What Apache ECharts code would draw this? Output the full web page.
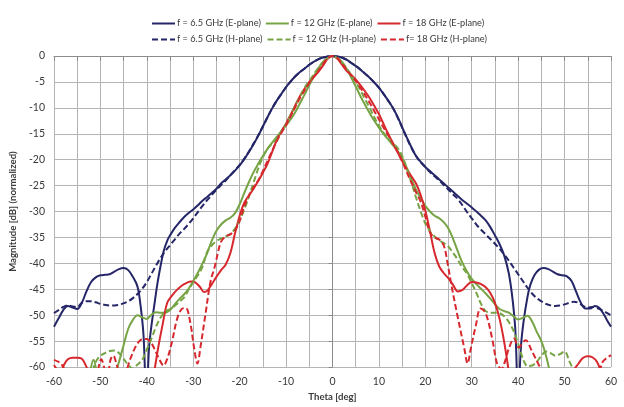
<!DOCTYPE html>
<html>
<head>
<meta charset="utf-8">
<script src="https://cdn.jsdelivr.net/npm/echarts@6/dist/echarts.min.js"></script>
<style>
  html, body { margin: 0; padding: 0; background: #ffffff; }
  #chart { width: 624px; height: 407px; }
</style>
</head>
<body>
<div id="chart"></div>
<script>
// Normalized radiation patterns: [theta (deg), magnitude (dB)]
// Values below -60 dB fall outside the plotted range and are clipped.
const seriesNames = [
  'f = 6.5 GHz (E-plane)', 'f = 12 GHz (E-plane)', 'f = 18 GHz (E-plane)',
  'f = 6.5 GHz (H-plane)', 'f = 12 GHz (H-plane)', 'f= 18 GHz (H-plane)'
];

const e65 = [[-60,-52.2],[-59,-50.6],[-58,-49.0],[-57,-48.2],[-56,-48.5],[-55,-48.8],[-54,-47.6],[-53,-45.4],[-52,-43.6],[-51,-42.7],[-50,-42.3],[-49,-42.2],[-48,-42.1],[-47,-41.6],[-46,-41.1],[-45,-40.9],[-44,-41.3],[-43,-42.6],[-42,-44.5],[-41.3,-48.5],[-40.7,-54],[-40.1,-66],[-39.5,-56],[-39,-52],[-38.3,-47.5],[-37.7,-43.8],[-37,-40.3],[-36.3,-37.4],[-35.5,-35.4],[-35,-34.6],[-34,-33.2],[-33,-32.1],[-32,-31.1],[-31,-30.3],[-30,-29.6],[-29,-28.8],[-28,-27.9],[-27,-27.2],[-26,-26.4],[-25,-25.6],[-24,-24.6],[-23,-23.8],[-22,-23.0],[-21,-22.1],[-20,-21.1],[-19,-19.9],[-18,-18.5],[-17,-17.0],[-16,-15.4],[-15,-13.6],[-14,-11.8],[-13,-10.1],[-12,-8.6],[-11,-7.3],[-10,-6.0],[-9,-4.9],[-8,-3.9],[-7,-3.1],[-6,-2.4],[-5,-1.7],[-4,-1.1],[-3,-0.6],[-2,-0.3],[-1,-0.1],[0,0],[1,-0.1],[2,-0.3],[3,-0.7],[4,-1.3],[5,-1.9],[6,-2.6],[7,-3.4],[8,-4.2],[9,-5.1],[10,-6.1],[11,-7.3],[12,-8.6],[13,-10.0],[14,-11.7],[15,-13.7],[16,-15.7],[17,-17.6],[18,-19.3],[19,-20.4],[20,-21.4],[21,-22.2],[22,-23.0],[23,-23.8],[24,-24.6],[25,-25.4],[26,-26.2],[27,-27.0],[28,-27.8],[29,-28.5],[30,-29.2],[31,-30.0],[32,-30.8],[33,-31.7],[34,-33.0],[35,-34.6],[36,-36.3],[37,-38.5],[38,-42.0],[38.8,-47],[39.4,-53],[40,-66],[40.6,-56],[41.2,-51],[42,-46.5],[42.6,-44.2],[43.5,-42.3],[44.5,-41.2],[45.5,-40.9],[46.5,-41.1],[47.5,-41.6],[48.5,-42.1],[49.5,-42.3],[50.5,-42.5],[51.5,-43.4],[52.5,-45.5],[53.5,-47.6],[54.5,-48.7],[55.5,-48.7],[56.5,-48.2],[57.5,-48.6],[58.5,-49.9],[59.3,-51.2],[60,-52.2]];

const e12 = [[-60,-66],[-53,-66],[-52.2,-61],[-51.5,-58.6],[-50.8,-61],[-50,-66],[-47.5,-66],[-46.6,-61],[-46,-59],[-45,-55.8],[-44,-52.6],[-43,-50.9],[-42,-50.0],[-41,-50.4],[-40,-50.7],[-39,-49.9],[-38,-49.4],[-37,-49.5],[-36,-49.5],[-35,-49.0],[-34,-47.9],[-33,-46.9],[-32,-46.0],[-31,-44.9],[-30,-43.4],[-29,-41.8],[-28,-40.0],[-27,-38.0],[-26,-35.6],[-25,-33.7],[-24,-32.5],[-23,-31.7],[-22,-31.2],[-21,-30.3],[-20,-28.6],[-19,-26.4],[-18,-24.3],[-17,-22.4],[-16,-20.8],[-15,-19.3],[-14,-17.9],[-13,-16.7],[-12,-15.6],[-11,-14.5],[-10,-13.4],[-9,-12.2],[-8,-10.8],[-7,-9.1],[-6,-7.4],[-5,-5.6],[-4,-3.9],[-3,-2.3],[-2,-1.1],[-1,-0.3],[0,0],[1,-0.3],[2,-1.1],[3,-2.4],[4,-4.1],[5,-5.9],[6,-7.7],[7,-9.4],[8,-11.0],[9,-12.5],[10,-13.8],[11,-15.0],[12,-16.1],[13,-17.2],[14,-18.3],[15,-19.6],[16,-21.6],[17,-23.7],[18,-25.8],[19,-27.4],[20,-28.9],[21,-30.0],[22,-30.8],[23,-31.3],[24,-32.1],[25,-33.3],[26,-35.3],[27,-37.7],[28,-39.9],[29,-41.6],[30,-43.0],[31,-44.0],[32,-44.9],[33,-45.8],[34,-46.8],[35,-47.9],[36,-48.8],[37,-49.2],[38,-49.5],[39,-50.2],[40,-50.8],[41,-50.5],[42,-50.1],[43,-51.2],[44,-53.2],[45,-55.0],[46,-57.8],[46.8,-61],[47.5,-66],[60,-66]];

const e18 = [[-60,-59.6],[-59.3,-60.5],[-58.6,-61],[-57.8,-59.5],[-57,-58.5],[-56,-58.2],[-55,-58.2],[-54,-58.4],[-53.3,-59.4],[-52.6,-61],[-52,-66],[-39.2,-66],[-38.4,-61],[-37.6,-56.5],[-36.6,-51.8],[-35.6,-47.6],[-34.5,-46.1],[-33.5,-45.1],[-32.5,-44.3],[-31.5,-43.8],[-30.5,-43.5],[-29.5,-43.7],[-28.5,-44.6],[-27.7,-45.5],[-27,-45.3],[-26,-44.0],[-25,-42.6],[-24,-41.3],[-23,-40.2],[-22,-38.0],[-21,-34.2],[-20,-30.8],[-19,-28.3],[-18,-26.9],[-17,-25.6],[-16,-24.1],[-15,-22.5],[-14,-20.8],[-13,-18.5],[-12,-16.2],[-11,-14.5],[-10,-13.0],[-9,-11.3],[-8,-9.5],[-7,-7.7],[-6,-6.3],[-5,-5.0],[-4,-4.0],[-3,-3.0],[-2,-1.8],[-1,-0.5],[0,0],[1,-0.5],[2,-1.6],[3,-2.8],[4,-3.6],[5,-4.5],[6,-5.6],[7,-6.8],[8,-8.1],[9,-9.6],[10,-11.2],[11,-13.1],[12,-15.0],[13,-16.8],[14,-18.5],[15,-20.2],[16,-21.8],[17,-23.2],[18,-24.6],[19,-26.8],[20,-29.8],[21,-33.8],[22,-38.0],[23,-40.6],[24,-41.9],[25,-42.9],[26,-44.2],[27,-45.4],[28,-45.1],[29,-44.2],[30,-43.6],[31,-43.7],[32,-44.0],[33,-44.6],[34,-45.7],[35,-47.6],[36,-50.7],[37,-55.2],[38,-61],[38.8,-66],[51,-66],[51.8,-61],[53,-59.3],[54,-58.2],[55,-57.9],[56,-58.1],[57,-59.0],[57.8,-61],[58.5,-66],[60,-66]];

const h65 = [[-60,-49.6],[-59,-49.0],[-58,-48.4],[-57,-48.1],[-56,-48.3],[-55,-48.4],[-54,-47.6],[-53,-47.3],[-52,-47.3],[-51,-47.5],[-50,-47.8],[-49,-48.0],[-48,-48.1],[-47,-48.1],[-46,-48.0],[-45,-47.7],[-44,-47.3],[-43,-46.7],[-42,-45.9],[-41,-44.9],[-40,-43.6],[-39,-42.0],[-38,-40.4],[-37,-38.9],[-36,-37.6],[-35,-36.5],[-34,-35.4],[-33,-34.3],[-32,-33.4],[-31,-32.4],[-30,-31.3],[-29,-30.1],[-28,-28.9],[-27,-27.8],[-26,-26.8],[-25,-25.8],[-24,-24.9],[-23,-24.0],[-22,-23.0],[-21,-22.0],[-20,-21.0],[-19,-19.8],[-18,-18.4],[-17,-16.9],[-16,-15.3],[-15,-13.6],[-14,-11.8],[-13,-10.1],[-12,-8.6],[-11,-7.3],[-10,-6.0],[-9,-4.9],[-8,-3.9],[-7,-3.1],[-6,-2.4],[-5,-1.7],[-4,-1.1],[-3,-0.6],[-2,-0.3],[-1,-0.1],[0,0],[1,-0.1],[2,-0.3],[3,-0.7],[4,-1.3],[5,-1.9],[6,-2.6],[7,-3.4],[8,-4.2],[9,-5.1],[10,-6.1],[11,-7.3],[12,-8.6],[13,-10.0],[14,-11.8],[15,-13.8],[16,-15.8],[17,-17.7],[18,-19.3],[19,-20.5],[20,-21.4],[21,-22.4],[22,-23.2],[23,-24.0],[24,-24.9],[25,-25.8],[26,-26.7],[27,-27.6],[28,-28.8],[29,-30.1],[30,-31.3],[31,-32.5],[32,-33.5],[33,-34.4],[34,-35.3],[35,-36.2],[36,-37.2],[37,-38.3],[38,-39.5],[39,-40.8],[40,-42.1],[41,-43.4],[42,-44.7],[43,-45.8],[44,-46.7],[45,-47.3],[46,-47.8],[47,-48.1],[48,-48.2],[49,-48.1],[50,-47.9],[51,-47.6],[52,-47.4],[53,-47.6],[54,-48.2],[55,-48.5],[56,-48.4],[57,-48.6],[58,-49.0],[59,-49.5],[60,-50.0]];

const h12 = [[-60,-66],[-52.5,-66],[-51.5,-60.5],[-51,-59],[-50,-57.8],[-49,-57.3],[-48,-56.9],[-47,-56.8],[-46,-57.3],[-45,-58.4],[-44,-59.6],[-43,-60.3],[-42.2,-59.7],[-41,-58.6],[-40,-56.6],[-39,-54.5],[-38,-52.2],[-37,-50.4],[-36,-49.3],[-35,-48.8],[-34,-48.2],[-33,-47.4],[-32,-46.6],[-31,-45.1],[-30,-43.6],[-29,-42.3],[-28,-40.6],[-27,-37.8],[-26,-36.5],[-25,-35.7],[-24,-35.2],[-23,-34.8],[-22,-34.3],[-21,-33.3],[-20,-31.7],[-19,-29.6],[-18,-27.1],[-17,-24.4],[-16,-21.7],[-15,-19.5],[-14,-17.9],[-13,-16.9],[-12,-15.8],[-11,-14.5],[-10,-13.1],[-9,-11.3],[-8,-9.5],[-7,-7.8],[-6,-6.1],[-5,-4.8],[-4,-3.5],[-3,-2.2],[-2,-1.2],[-1,-0.4],[0,0],[1,-0.4],[2,-1.2],[3,-2.3],[4,-3.6],[5,-5.0],[6,-6.6],[7,-8.3],[8,-10.0],[9,-11.8],[10,-13.4],[11,-14.8],[12,-15.9],[13,-16.8],[14,-17.7],[15,-19.2],[16,-21.7],[17,-24.4],[18,-27.3],[19,-30.0],[20,-32.3],[21,-33.8],[22,-34.8],[23,-35.6],[24,-36.1],[25,-36.8],[26,-38.0],[27,-39.3],[28,-40.8],[29,-42.0],[30,-43.8],[31,-45.7],[32,-47.8],[33,-49.2],[34,-49.5],[35,-49.5],[36,-49.6],[37,-50.2],[38,-51.3],[39,-53.0],[40,-55.5],[41,-58.3],[42,-59.8],[43,-59.7],[44,-59.0],[45,-57.8],[46,-57.0],[47,-57.3],[48,-57.8],[49,-57.5],[50,-57.0],[51,-58.8],[52,-61],[53,-66],[60,-66]];

const h18 = [[-60,-58.6],[-59,-59.0],[-58.4,-59.4],[-57.6,-61],[-57,-66],[-51.5,-66],[-50.6,-61],[-49.8,-58.5],[-49,-60.5],[-48.4,-61],[-47.8,-58.5],[-47.2,-57.8],[-46.5,-59.5],[-45.8,-61],[-44.8,-61],[-43.6,-58.5],[-42.5,-56.2],[-41.5,-54.9],[-40.7,-54.6],[-40,-54.6],[-39,-55.4],[-38.2,-56.8],[-37.4,-58.3],[-36.4,-59.7],[-35.6,-58.4],[-34.6,-55.2],[-33.5,-50.8],[-32.5,-48.8],[-31.6,-48.6],[-30.6,-51.6],[-29.8,-56.4],[-29.1,-59.3],[-28.4,-55.9],[-27.4,-50.0],[-26.3,-43.6],[-25.3,-40.4],[-24.5,-37.2],[-24,-35.8],[-23,-34.8],[-22,-34.4],[-21,-33.6],[-20,-31.8],[-19,-29.0],[-18,-26.9],[-17,-25.3],[-16,-24.0],[-15,-22.2],[-14,-20.2],[-13,-18.3],[-12,-16.4],[-11,-14.8],[-10,-13.3],[-9,-11.6],[-8,-9.8],[-7,-8.1],[-6,-6.6],[-5,-5.2],[-4,-4.0],[-3,-2.8],[-2,-1.5],[-1,-0.4],[0,0],[1,-0.4],[2,-1.4],[3,-2.6],[4,-3.7],[5,-4.8],[6,-6.1],[7,-7.5],[8,-9.0],[9,-10.6],[10,-12.2],[11,-13.8],[12,-15.3],[13,-16.8],[14,-18.4],[15,-20.3],[16,-22.4],[17,-24.4],[18,-26.3],[19,-28.1],[20,-31.0],[21,-34.0],[22,-35.0],[23,-35.4],[24,-36.6],[24.8,-40.0],[25.5,-43.6],[26.9,-50.0],[28.4,-56.4],[29.1,-59.3],[29.8,-56.4],[30.9,-51.9],[31.9,-48.7],[33,-49.6],[34.4,-54.5],[35.5,-59.5],[36.4,-60.3],[37.3,-58.5],[38,-56.4],[39.1,-54.5],[40.1,-56.2],[41.6,-54.8],[43,-57.0],[44.4,-59.5],[45.3,-61],[46,-66],[56.8,-66],[57.6,-61],[58.2,-59],[59,-58.3],[60,-57.7]];

const xTicks = { min: -60, max: 60, step: 5, labelStep: 10 };
const yTicks = { min: -60, max: 0, step: 5 };

const NAVY = '#252668', GREEN = '#76a444', RED = '#d7282e';
const FONT = 'Lato, "Liberation Sans", sans-serif';
const TEXT = '#3a3a3a';
const GRID = '#b4b4b4';

function lineSeries(name, data, color, dashed) {
  return {
    name: name,
    type: 'line',
    data: data,
    symbol: 'none',
    smooth: 0.35,
    clip: true,
    lineStyle: { color: color, width: 2, type: dashed ? [6, 3] : 'solid' },
    itemStyle: { color: color },
    emphasis: { disabled: true },
    animation: false
  };
}

const chart = echarts.init(document.getElementById('chart'), null, { renderer: 'canvas' });

// Legend: two rows of line-only keys (no marker dots)
const legendBase = {
  left: 146,
  itemWidth: 23,
  itemHeight: 10,
  itemGap: 4,
  itemStyle: { opacity: 0 },
  textStyle: { fontFamily: FONT, fontSize: 9.2, color: TEXT, padding: [0, 0, 0, -3] },
  selectedMode: false
};

chart.setOption({
  backgroundColor: '#ffffff',
  animation: false,
  legend: [
    Object.assign({}, legendBase, { top: 14, data: seriesNames.slice(0, 3) }),
    Object.assign({}, legendBase, { top: 30, data: seriesNames.slice(3) })
  ],
  grid: { left: 51, right: 13, top: 56, bottom: 38 },
  xAxis: {
    type: 'value',
    min: xTicks.min,
    max: xTicks.max,
    interval: xTicks.step,
    name: 'Theta [deg]',
    nameLocation: 'middle',
    nameGap: 24,
    nameTextStyle: { fontFamily: FONT, fontSize: 9.6, fontWeight: 'bold', color: TEXT },
    axisLine: { lineStyle: { color: '#8c8c8c', width: 1 } },
    axisTick: { show: true, length: 5, lineStyle: { color: '#8c8c8c' } },
    axisLabel: {
      fontFamily: FONT, fontSize: 10.5, color: TEXT, margin: 9,
      formatter: function (v) { return v % xTicks.labelStep === 0 ? String(v) : ''; }
    },
    splitLine: { show: true, lineStyle: { color: GRID, width: 1 } }
  },
  yAxis: {
    type: 'value',
    min: yTicks.min,
    max: yTicks.max,
    interval: yTicks.step,
    name: 'Magnitude [dB] (normalized)',
    nameLocation: 'middle',
    nameGap: 22,
    nameTextStyle: { fontFamily: FONT, fontSize: 9.6, fontWeight: 'bold', color: TEXT },
    axisLine: { show: true, lineStyle: { color: '#8c8c8c', width: 1 } },
    axisTick: { show: true, length: 4, lineStyle: { color: '#8c8c8c' } },
    axisLabel: { fontFamily: FONT, fontSize: 10.5, color: TEXT, margin: 9 },
    splitLine: { show: true, lineStyle: { color: GRID, width: 1 } }
  },
  series: [
    lineSeries(seriesNames[0], e65, NAVY, false),
    lineSeries(seriesNames[1], e12, GREEN, false),
    lineSeries(seriesNames[2], e18, RED, false),
    lineSeries(seriesNames[3], h65, NAVY, true),
    lineSeries(seriesNames[4], h12, GREEN, true),
    lineSeries(seriesNames[5], h18, RED, true)
  ]
});
</script>
</body>
</html>
